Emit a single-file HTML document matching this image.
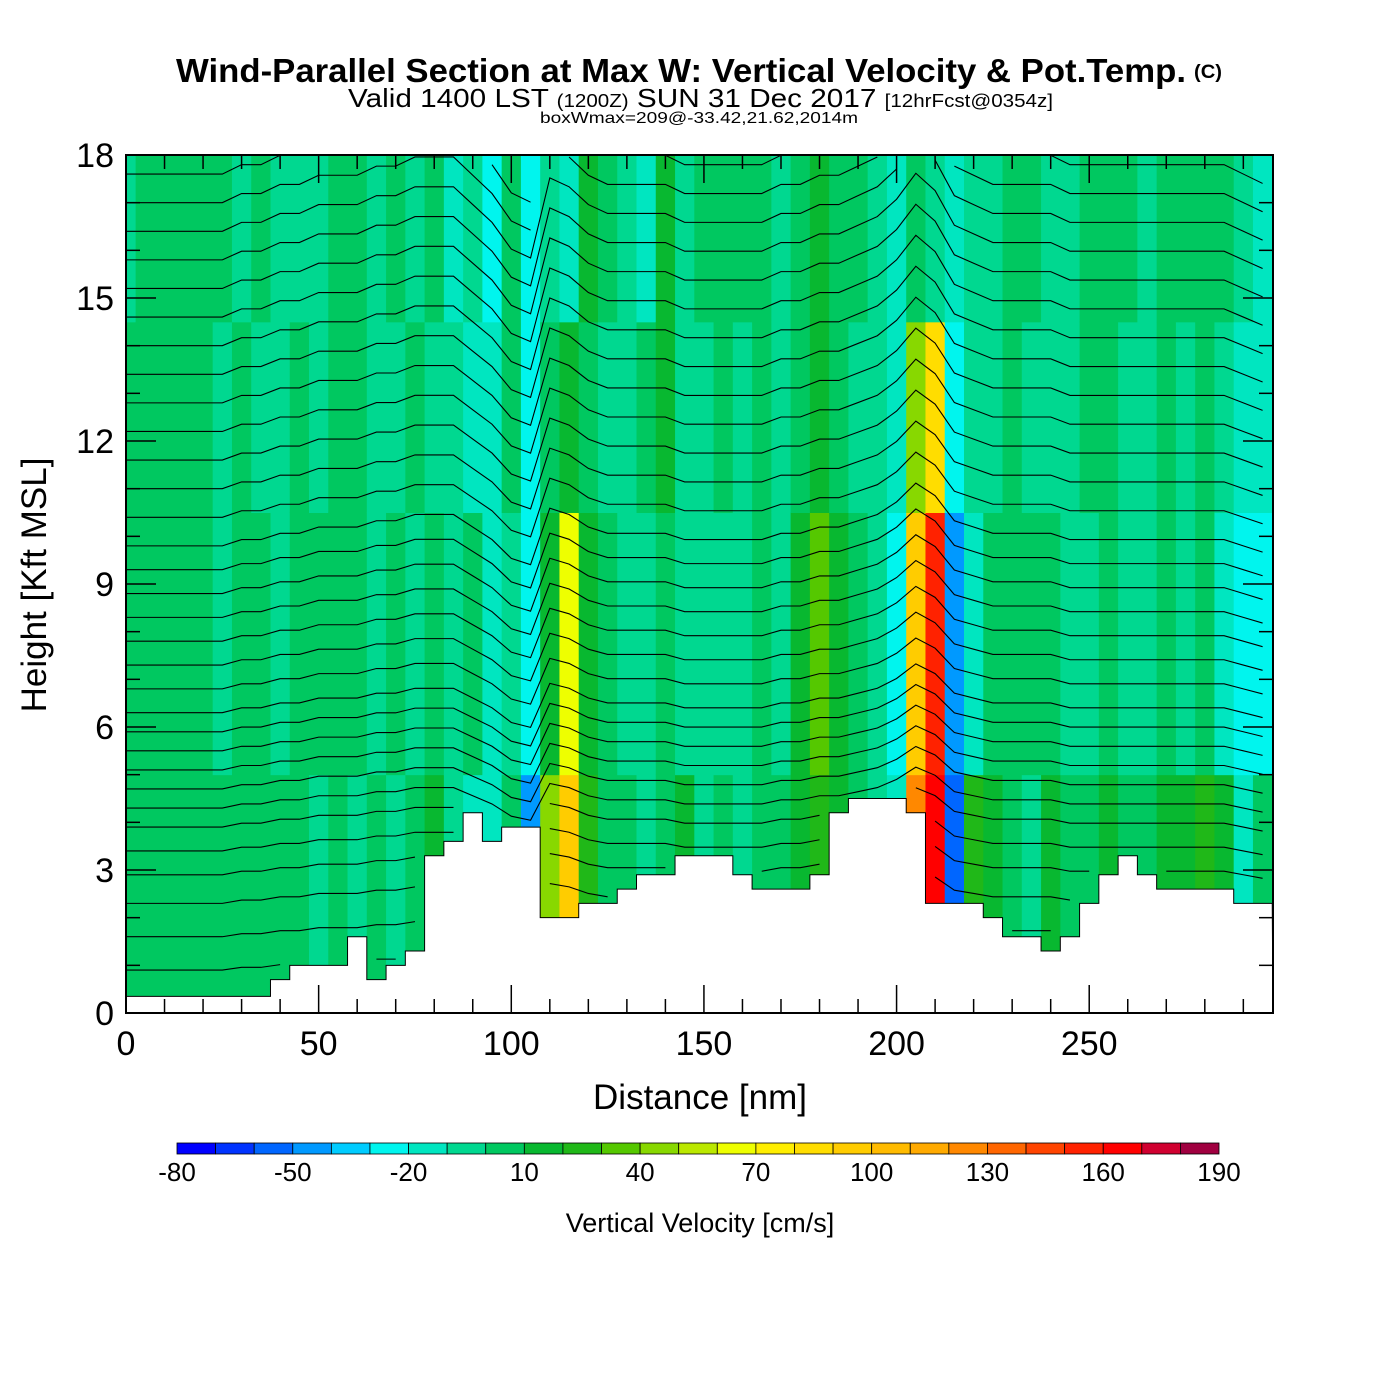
<!DOCTYPE html>
<html><head><meta charset="utf-8"><style>
html,body{margin:0;padding:0;background:#fff;}
svg{display:block;font-family:"Liberation Sans",sans-serif;}
</style></head><body>
<svg id="chart" width="1400" height="1400" viewBox="0 0 1400 1400" xmlns="http://www.w3.org/2000/svg">
<text x="176" y="82" font-size="33" font-weight="bold" textLength="1010" lengthAdjust="spacingAndGlyphs">Wind-Parallel Section at Max W: Vertical Velocity &amp; Pot.Temp.</text>
<text x="1194" y="78" font-size="19" font-weight="bold" textLength="28" lengthAdjust="spacingAndGlyphs">(C)</text>
<text x="348" y="107" font-size="26" textLength="705" lengthAdjust="spacingAndGlyphs"><tspan>Valid 1400 LST </tspan><tspan font-size="18">(1200Z)</tspan><tspan> SUN 31 Dec 2017 </tspan><tspan font-size="18">[12hrFcst@0354z]</tspan></text>
<text x="540" y="123" font-size="16" textLength="318" lengthAdjust="spacingAndGlyphs">boxWmax=209@-33.42,21.62,2014m</text>
<g id="cells"></g>
<g id="terrain"></g>
<g id="isen" fill="none" stroke="#000" stroke-width="1.1"></g>
<rect x="126" y="155" width="1147" height="858" fill="none" stroke="#000" stroke-width="2"/>
<g id="axes"></g>
<text x="700" y="1109" font-size="35" text-anchor="middle">Distance [nm]</text>
<text x="0" y="0" font-size="35" text-anchor="middle" transform="translate(46,585) rotate(-90)">Height [Kft MSL]</text>
<g id="cbar"></g>
<text x="700" y="1232" font-size="27" text-anchor="middle">Vertical Velocity [cm/s]</text>
</svg>
<script>
const distances=[0,5,10,15,20,25,30,35,40,45,50,55,60,65,70,75,80,85,90,95,100,105,110,115,120,125,130,135,140,145,150,155,160,165,170,175,180,185,190,195,200,205,210,215,220,225,230,235,240,245,250,255,260,265,270,275,280,285,290,295];
const terrain=[0.35,0.35,0.35,0.35,0.35,0.35,0.35,0.35,0.7,1.0,1.0,1.0,1.6,0.7,1.0,1.3,3.3,3.6,4.2,3.6,3.9,3.9,2.0,2.0,2.3,2.3,2.6,2.9,2.9,3.3,3.3,3.3,2.9,2.6,2.6,2.6,2.9,4.2,4.5,4.5,4.5,4.2,2.3,2.3,2.3,2.0,1.6,1.6,1.3,1.6,2.3,2.9,3.3,2.9,2.6,2.6,2.6,2.6,2.3,2.3];
const wLow=[5,5,5,5,5,5,5,5,5,5,-5,5,-5,5,-5,5,15,-5,-15,-15,5,-45,40,90,20,5,5,-5,5,15,-5,5,-5,5,5,15,25,15,5,-5,-15,120,160,-55,20,15,5,-5,15,5,5,15,5,5,15,15,25,15,-15,5];
const wMid=[5,5,5,5,5,-5,5,5,-5,5,5,5,5,-5,5,-5,5,-5,5,-15,-5,-25,15,60,15,5,-5,-5,5,-5,-5,-5,-5,5,-5,15,35,15,5,-5,-25,90,150,-45,-15,5,5,5,5,-5,-5,5,-5,-5,5,-5,5,-15,-25,-25];
const wUpper=[5,5,5,5,5,-5,5,-5,-5,5,-5,5,5,-5,-5,5,-5,-5,-15,-15,5,-25,5,15,5,-5,-5,5,15,-5,-5,5,-5,5,-5,5,15,5,-5,-5,-15,40,80,-25,-5,-5,5,-5,-5,-5,5,5,-5,-5,5,-5,5,-5,-15,-15];
const wTop=[-5,5,5,5,5,5,-5,5,-5,-5,-5,5,5,-5,5,-5,5,-15,-5,-25,5,-25,-5,-15,15,5,-5,-15,15,-5,5,5,5,5,-5,5,15,5,5,-5,-15,5,-5,-15,-5,-5,5,5,-5,-5,5,5,5,-5,5,5,5,5,-5,-15];
const bandTops=[5,10.5,14.5,18];
const thetaBase=[0.9,1.6,2.3,2.9,3.4,3.9,4.3,4.7,5.1,5.5,5.9,6.3,6.8,7.3,7.8,8.3,8.8,9.3,9.8,10.4,11.0,11.6,12.2,12.8,13.4,14.0,14.6,15.2,15.8,16.4,17.0,17.6];
const lift=[0,0,0,0,0,0,0.1,0.1,0.2,0.2,0.3,0.3,0.3,0.4,0.4,0.5,0.5,0.5,0.3,0.1,-0.2,-0.3,0.6,0.5,0.3,0.2,0.2,0.2,0.2,0.1,0.1,0.1,0.1,0.1,0.2,0.2,0.3,0.3,0.4,0.5,0.7,1.0,0.8,0.4,0.3,0.2,0.2,0.2,0.2,0.1,0.1,0.1,0.1,0.1,0.1,0.1,0.1,0.1,0.0,-0.1];
const cbTicks=[-80,-50,-20,10,40,70,100,130,160,190];
const palette=["#0000ff","#0033ff","#0066ff","#0099ff","#00ccff","#00f5ee","#00e6c0","#00d890","#00c860","#08b830","#20b818","#55c800","#88d800","#bbe800","#eeff00","#ffee00","#ffdd00","#ffcc00","#ffbb00","#ffaa00","#ff8800","#ff6600","#ff4400","#ff2200","#ff0000","#d00030","#a00040"];
const NS="http://www.w3.org/2000/svg";
const X0=126,X1=1273,Y0=1013,Y1=155,XMAX=297.7,YMAX=18;
const sx=d=>X0+d*(X1-X0)/XMAX;
const sy=h=>Y0-h*(Y0-Y1)/YMAX;
const colorOf=w=>palette[Math.max(0,Math.min(26,Math.floor((w+80)/10)))];
function mk(tag,attrs,parent){const e=document.createElementNS(NS,tag);for(const k in attrs)e.setAttribute(k,attrs[k]);parent.appendChild(e);return e;}
const cells=document.getElementById('cells');
const bands=[wLow,wMid,wUpper,wTop];
distances.forEach((d,i)=>{
  const xa=sx(Math.max(0,d-2.5)),xb=sx(Math.min(XMAX,d+2.5));
  let lo=0;
  bands.forEach((arr,b)=>{
    const hi=bandTops[b];
    const r=mk('rect',{x:xa,y:sy(hi),width:xb-xa+0.5,height:sy(lo)-sy(hi)+0.5,fill:colorOf(arr[i])},cells);
    
    
    lo=hi;
  });
});
const ter=document.getElementById('terrain');
let tp=`M${X0},${Y0}`;
distances.forEach((d,i)=>{tp+=` L${sx(Math.max(0,d-2.5))},${sy(terrain[i])} L${sx(Math.min(XMAX,d+2.5))},${sy(terrain[i])}`;});
tp+=` L${X1},${Y0} Z`;
const tpath=mk('path',{d:tp,fill:'#fff',stroke:'#000','stroke-width':1},ter);


const isen=document.getElementById('isen');
thetaBase.forEach((b,k)=>{
  let p='';let started=false;
  distances.forEach((d,i)=>{
    const h=b+lift[i]*(0.5+b/12);
    if(h<=terrain[i]+0.1||h>YMAX){started=false;return;}
    p+=(started?' L':' M')+sx(d)+','+sy(h);started=true;
  });
  const pl=mk('path',{d:p},isen);
  
  
});
const ax=document.getElementById('axes');
for(let v=0;v<=18;v+=1){
  const major=v%3===0,len=major?30:14;
  mk('line',{x1:X0,x2:X0+len,y1:sy(v),y2:sy(v),stroke:'#000','stroke-width':1.5},ax);
  mk('line',{x1:X1-len,x2:X1,y1:sy(v),y2:sy(v),stroke:'#000','stroke-width':1.5},ax);
  if(major){const t=mk('text',{x:114,y:sy(v)+12,'font-size':34,'text-anchor':'end'},ax);t.textContent=v;
    
    }
}
for(let v=0;v<=290;v+=10){
  const major=v%50===0,len=major?28:14;
  mk('line',{x1:sx(v),x2:sx(v),y1:Y0,y2:Y0-len,stroke:'#000','stroke-width':1.5},ax);
  mk('line',{x1:sx(v),x2:sx(v),y1:Y1,y2:Y1+len,stroke:'#000','stroke-width':1.5},ax);
  if(major){const t=mk('text',{x:sx(v),y:1055,'font-size':34,'text-anchor':'middle'},ax);t.textContent=v;
    
    }
}
const cb=document.getElementById('cbar');
const CB0=177,CB1=1219,bw=(CB1-CB0)/27;
palette.forEach((c,i)=>{
  const r=mk('rect',{x:CB0+i*bw,y:1143,width:bw,height:11,fill:c,stroke:'#000','stroke-width':0.8},cb);
  
  
});
cbTicks.forEach(v=>{
  const t=mk('text',{x:CB0+(v+80)/10*bw,y:1181,'font-size':26,'text-anchor':'middle'},cb);
  t.textContent=v;
  
  
});
</script>
</body></html>
